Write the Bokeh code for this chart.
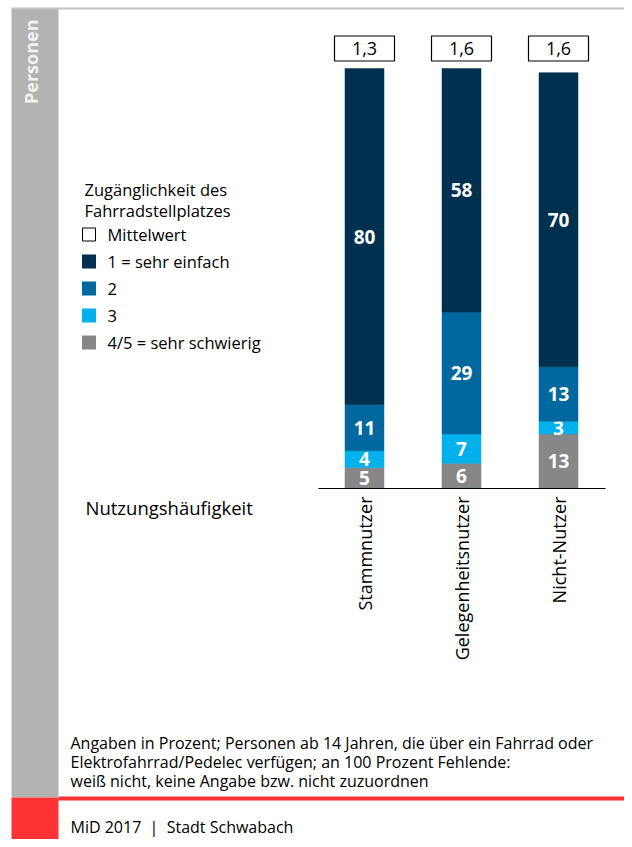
from bokeh.plotting import figure
from bokeh.models import Range1d, ColumnDataSource
from bokeh.core.properties import value
from bokeh.embed import file_html
from bokeh.resources import INLINE
import math

# ---------------- data ----------------
categories = ["Stammnutzer", "Gelegenheitsnutzer", "Nicht-Nutzer"]
mean_values = ["1,3", "1,6", "1,6"]
s_hard = [5, 6, 13]      # 4/5 = sehr schwierig
s_three = [4, 7, 3]      # 3
s_two = [11, 29, 13]     # 2
s_easy = [80, 58, 70]    # 1 = sehr einfach
series_names = ["1 = sehr einfach", "2", "3", "4/5 = sehr schwierig"]
legend_title = ["Zugänglichkeit des", "Fahrradstellplatzes"]
axis_title = "Nutzungshäufigkeit"
side_label = "Personen"
footnote = ["Angaben in Prozent; Personen ab 14 Jahren, die über ein Fahrrad oder",
            "Elektrofahrrad/Pedelec verfügen; an 100 Prozent Fehlende:",
            "weiß nicht, keine Angabe bzw. nicht zuzuordnen"]
source_line = "MiD 2017\u00a0\u00a0|\u00a0\u00a0Stadt Schwabach"

C_EASY = "#00304F"
C_TWO = "#00689E"
C_THREE = "#00B1EB"
C_HARD = "#878787"
C_BAND = "#B3B3B3"
C_RED = "#FF3333"

FONT = value("Open Sans")

W, H = 624, 839
PX_X = 97.0    # pixels per category step
PX_Y = 4.2     # pixels per percent
X0 = -364.0 / PX_X
Y0 = -(H - 488.0) / PX_Y
xr = Range1d(X0, X0 + W / PX_X)
yr = Range1d(Y0, Y0 + H / PX_Y)

# helpers to place decorations by picture position
def X(px):
    return X0 + px / PX_X

def Y(py):
    return Y0 + (H - py) / PX_Y

p = figure(width=W, height=H, x_range=xr, y_range=yr, output_backend="svg",
           toolbar_location=None, min_border=0, outline_line_color=None,
           background_fill_color="white", border_fill_color="white")
p.xaxis.visible = False
p.yaxis.visible = False
p.grid.visible = False

# ---------------- frame decorations ----------------
p.quad(left=[X(11)], right=[X(58)], top=[Y(8)], bottom=[Y(797)], fill_color=C_BAND, line_color=None)
p.quad(left=[X(11)], right=[X(58)], top=[Y(797)], bottom=[Y(850)], fill_color=C_RED, line_color=None)
p.quad(left=[X(58)], right=[X(640)], top=[Y(796)], bottom=[Y(800)], fill_color=C_RED, line_color=None)
p.quad(left=[X(11)], right=[X(640)], top=[Y(7)], bottom=[Y(9)], fill_color="#C4C4C4", line_color=None)

p.text(x=[X(30)], y=[Y(19)], text=[side_label], angle=math.pi / 2, text_align="right",
       text_baseline="middle", text_color="#F2F2F2", text_font=FONT, text_font_style="bold",
       text_font_size="18px")

# ---------------- stacked bars ----------------
xs = list(range(len(categories)))
b1 = [0] * len(xs)
t1 = [b + v for b, v in zip(b1, s_hard)]
t2 = [b + v for b, v in zip(t1, s_three)]
t3 = [b + v for b, v in zip(t2, s_two)]
t4 = [b + v for b, v in zip(t3, s_easy)]
bw = 39.0 / PX_X
stacks = [(b1, t1, C_HARD, s_hard), (t1, t2, C_THREE, s_three),
          (t2, t3, C_TWO, s_two), (t3, t4, C_EASY, s_easy)]
for bot, top, col, vals in stacks:
    src = ColumnDataSource(dict(x=xs, bottom=bot, top=top,
                                mid=[(a + b) / 2 for a, b in zip(bot, top)],
                                lab=[str(v) for v in vals]))
    p.vbar(x="x", bottom="bottom", top="top", width=bw, source=src,
           fill_color=col, line_color=col, line_width=0.5)
    p.text(x="x", y="mid", text="lab", source=src, text_align="center",
           text_baseline="middle", text_color="white", text_font=FONT,
           text_font_style="bold", text_font_size="19px")

# baseline
p.segment(x0=[X(318)], x1=[X(605)], y0=[0], y1=[0], line_color="black", line_width=1.2)

# mean value boxes
box_y = Y(48)
p.rect(x=xs, y=[box_y] * len(xs), width=60, height=25, width_units="screen",
       height_units="screen", fill_color="white", line_color="black", line_width=1.2)
p.text(x=xs, y=[box_y] * len(xs), text=mean_values, text_align="center",
       text_baseline="middle", text_color="black", text_font=FONT, text_font_size="18px")

# category labels (rotated)
p.text(x=xs, y=[Y(496)] * len(xs), text=categories, angle=math.pi / 2, text_align="right",
       text_baseline="middle", text_color="black", text_font=FONT, text_font_size="18px")

p.text(x=[X(85)], y=[Y(507)], text=[axis_title], text_align="left", text_baseline="middle",
       text_color="black", text_font=FONT, text_font_size="18.5px")

# ---------------- legend ----------------
p.text(x=[X(84)] * 2, y=[Y(189), Y(210)], text=legend_title, text_align="left",
       text_baseline="middle", text_color="black", text_font=FONT, text_font_size="16.5px")
leg_y = [Y(234), Y(261), Y(288), Y(315), Y(342)]
p.rect(x=[X(88.5)], y=[leg_y[0]], width=13, height=13, width_units="screen", height_units="screen",
       fill_color="white", line_color="black", line_width=1)
p.rect(x=[X(88.5)] * 4, y=leg_y[1:], width=14, height=14, width_units="screen", height_units="screen",
       fill_color=[C_EASY, C_TWO, C_THREE, C_HARD], line_color=None)
p.text(x=[X(107)] * 5, y=leg_y, text=["Mittelwert"] + series_names, text_align="left",
       text_baseline="middle", text_color="black", text_font=FONT, text_font_size="16.5px")

# ---------------- footnote ----------------
p.text(x=[X(70)] * 3, y=[Y(742), Y(761), Y(780)], text=footnote, text_align="left",
       text_baseline="middle", text_color="black", text_font=FONT, text_font_size="16px")
p.text(x=[X(70)], y=[Y(826)], text=[source_line], text_align="left", text_baseline="middle",
       text_color="black", text_font=FONT, text_font_size="16px")

open("out.html", "w").write(file_html(p, INLINE))
